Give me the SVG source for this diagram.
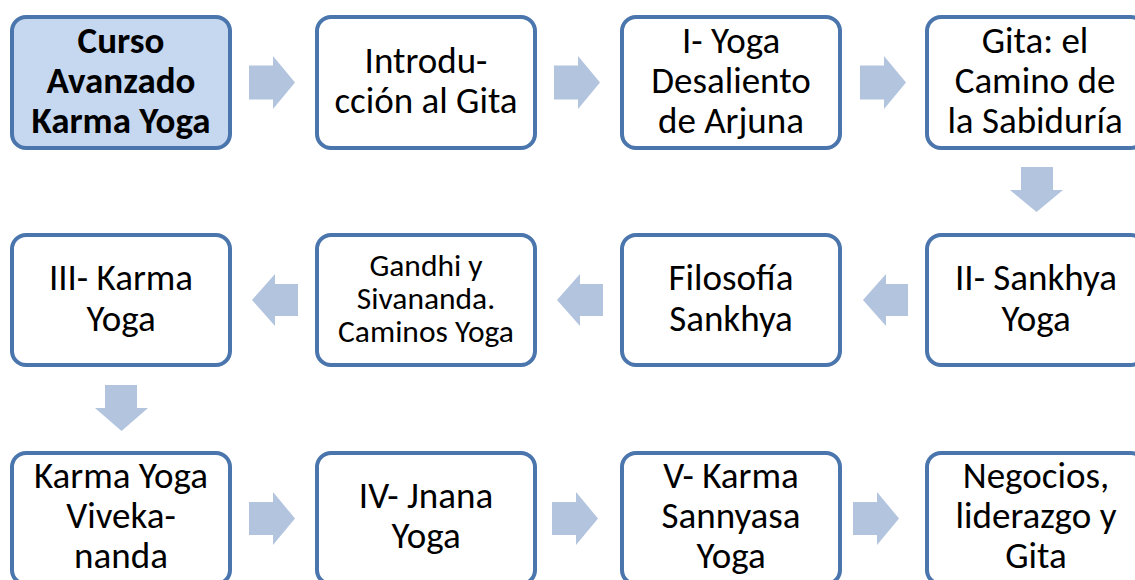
<svg xmlns="http://www.w3.org/2000/svg" width="1135" height="580" viewBox="0 0 1135 580">
<style>
.box{fill:#ffffff;stroke:#4a76ad;stroke-width:4}
.start{fill:#c6d8ef}
.arr{fill:#b3c4df}
text{font-family:Carlito,Lato,"Open Sans",sans-serif;font-size:37px;fill:#000;text-anchor:middle}
.b{font-weight:bold}
.s{font-size:31.5px}
</style>
<rect width="1135" height="580" fill="#ffffff"/>
<g id="connectors">
<polygon class="arr" points="249,65.5 273,65.5 273,56 295,82.5 273,109 273,99.5 249,99.5"/>
<polygon class="arr" points="554,65.5 578,65.5 578,56 600,82.5 578,109 578,99.5 554,99.5"/>
<polygon class="arr" points="860,65.5 884,65.5 884,56 906,82.5 884,109 884,99.5 860,99.5"/>
<polygon class="arr" points="1021,167 1053,167 1053,190 1063,190 1036.5,212 1010,190 1021,190"/>
<polygon class="arr" points="863,300 886,274 886,284 908,284 908,316 886,316 886,326"/>
<polygon class="arr" points="557,300 580,274 580,284 603,284 603,316 580,316 580,326"/>
<polygon class="arr" points="252,300 275,274 275,284 298,284 298,316 275,316 275,326"/>
<polygon class="arr" points="105,385 137,385 137,408 148,408 121.5,431 95,408 105,408"/>
<polygon class="arr" points="249,502 273,502 273,492 295,518.5 273,545 273,535 249,535"/>
<polygon class="arr" points="552,502 576,502 576,492 598,518.5 576,545 576,535 552,535"/>
<polygon class="arr" points="853,502 877,502 877,492 899,518.5 877,545 877,535 853,535"/>
</g>
<g id="n1"><rect class="box start" x="12" y="17" width="218" height="131" rx="14"/>
<text class="b" x="121" y="53">Curso</text><text class="b" x="121" y="93">Avanzado</text><text class="b" x="121" y="133">Karma Yoga</text></g>
<g id="n2"><rect class="box" x="317" y="17" width="218" height="131" rx="14"/>
<text x="426" y="73">Introdu-</text><text x="426" y="113">cción al Gita</text></g>
<g id="n3"><rect class="box" x="622" y="17" width="218" height="131" rx="14"/>
<text x="731" y="53">I- Yoga</text><text x="731" y="93">Desaliento</text><text x="731" y="133">de Arjuna</text></g>
<g id="n4"><rect class="box" x="927" y="17" width="218" height="131" rx="14"/>
<text x="1035" y="53">Gita: el</text><text x="1035" y="93">Camino de</text><text x="1035" y="133">la Sabiduría</text></g>
<g id="n5"><rect class="box" x="927" y="235" width="218" height="130" rx="14"/>
<text x="1036" y="290">II- Sankhya</text><text x="1036" y="331">Yoga</text></g>
<g id="n6"><rect class="box" x="622" y="235" width="218" height="130" rx="14"/>
<text x="731" y="290">Filosofía</text><text x="731" y="331">Sankhya</text></g>
<g id="n7"><rect class="box" x="317" y="235" width="218" height="130" rx="14"/>
<text class="s" x="426" y="276">Gandhi y</text><text class="s" x="426" y="309">Sivananda.</text><text class="s" x="426" y="342">Caminos Yoga</text></g>
<g id="n8"><rect class="box" x="12" y="235" width="218" height="130" rx="14"/>
<text x="121" y="290">III- Karma</text><text x="121" y="331">Yoga</text></g>
<g id="n9"><rect class="box" x="12" y="453" width="218" height="131" rx="14"/>
<text x="121" y="488">Karma Yoga</text><text x="121" y="528">Viveka-</text><text x="121" y="568">nanda</text></g>
<g id="n10"><rect class="box" x="317" y="453" width="218" height="131" rx="14"/>
<text x="426" y="508">IV- Jnana</text><text x="426" y="548">Yoga</text></g>
<g id="n11"><rect class="box" x="622" y="453" width="218" height="131" rx="14"/>
<text x="731" y="488">V- Karma</text><text x="731" y="528">Sannyasa</text><text x="731" y="568">Yoga</text></g>
<g id="n12"><rect class="box" x="927" y="453" width="218" height="131" rx="14"/>
<text x="1036" y="488">Negocios,</text><text x="1036" y="528">liderazgo y</text><text x="1036" y="568">Gita</text></g>
</svg>
